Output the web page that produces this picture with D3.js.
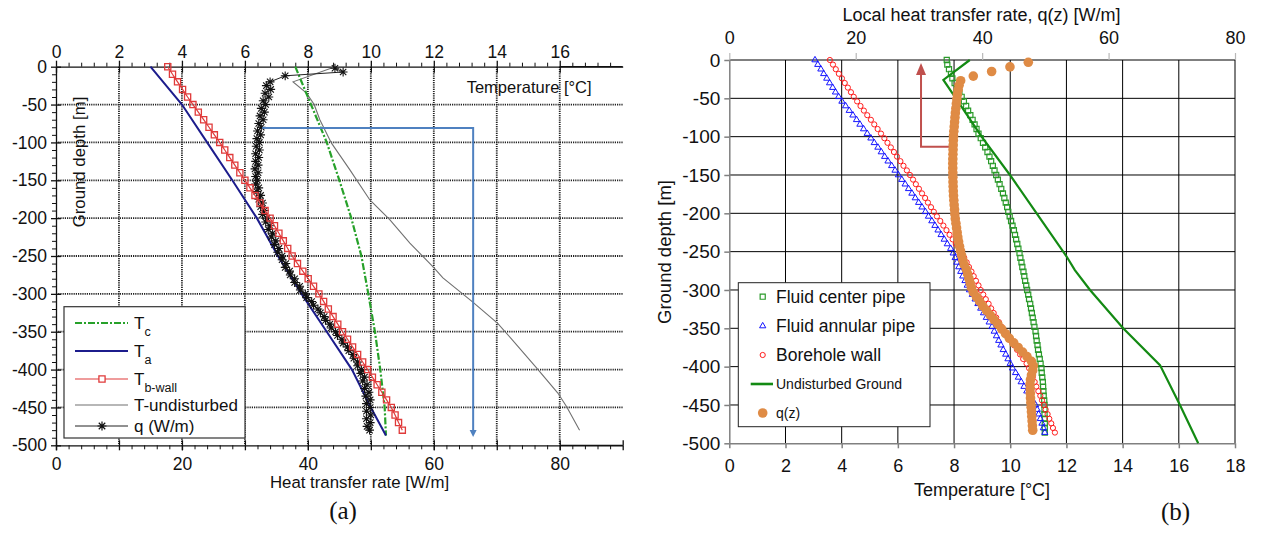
<!DOCTYPE html>
<html>
<head>
<meta charset="utf-8">
<script src="https://cdn.jsdelivr.net/npm/d3@7"></script>
<style>
  html, body { margin: 0; padding: 0; background: #fff; }
  svg { display: block; }
  text { font-family: "Liberation Sans", Arial, sans-serif; }
  text.serif { font-family: "Liberation Serif", "Times New Roman", serif; }
</style>
</head>
<body>
<svg id="fig" width="1264" height="539"></svg>
<script>
// ---------- panel (a) data ----------
const tempTicksA = [0, 2, 4, 6, 8, 10, 12, 14, 16]
const heatTicksA = [0, 20, 40, 60, 80]
const depthTicks = [0, -50, -100, -150, -200, -250, -300, -350, -400, -450, -500]

const depthFluidA = [0, -50, -100, -150, -200, -250, -300, -350, -400, -450, -487]
const tempTa = [3.0, 4.0, 4.8, 5.6, 6.38, 7.05, 7.8, 8.6, 9.4, 10.0, 10.48]
const tempTc = [7.6, 8.1, 8.6, 9.0, 9.38, 9.7, 9.92, 10.13, 10.3, 10.44, 10.48]

const depthUndA = [-1, -20, -35, -50, -70, -101, -136, -176, -202, -233, -264, -279, -311, -339, -361, -398, -431, -449, -480]
const tempUndA = [8.8, 7.53, 7.96, 8.2, 8.38, 8.75, 9.33, 9.97, 10.6, 11.24, 11.97, 12.29, 13.24, 14.03, 14.5, 15.27, 15.94, 16.22, 16.63]

const depthWallA = [0, -10, -20, -30, -40, -50, -60, -70, -80, -90,
  -100, -110, -120, -130, -140, -150, -160, -170, -180, -190,
  -200, -210, -220, -230, -240, -250, -260, -270, -280, -290,
  -300, -310, -320, -330, -340, -350, -360, -370, -380, -390,
  -400, -410, -420, -430, -440, -450, -460, -470, -480]
const tempWallA = [3.55, 3.70, 3.86, 4.02, 4.18, 4.35, 4.52, 4.69, 4.86, 5.03,
  5.20, 5.36, 5.52, 5.68, 5.84, 6.00, 6.16, 6.32, 6.48, 6.64,
  6.80, 6.94, 7.08, 7.22, 7.36, 7.50, 7.67, 7.84, 8.01, 8.18,
  8.35, 8.50, 8.65, 8.80, 8.95, 9.10, 9.26, 9.42, 9.58, 9.74,
  9.90, 10.05, 10.20, 10.35, 10.50, 10.65, 10.77, 10.88, 11.00]

const depthQA = [-2, -7, -12,
  -20, -25, -30, -35, -40, -45, -50, -55, -60, -65,
  -70, -75, -80, -85, -90, -95, -100, -105, -110, -115,
  -120, -125, -130, -135, -140, -145, -150, -155, -160, -165,
  -170, -175, -180, -185, -190, -195, -200, -205, -210, -215,
  -220, -225, -230, -235, -240, -245, -250, -255, -260, -265,
  -270, -275, -280, -285, -290, -295, -300, -305, -310, -315,
  -320, -325, -330, -335, -340, -345, -350, -355, -360, -365,
  -370, -375, -380, -385, -390, -395, -400, -405, -410, -415,
  -420, -425, -430, -435, -440, -445, -450, -455, -460, -465,
  -470, -475, -480]
const heatQA = [44.3, 45.6, 36.4,
  34.0, 33.4, 34.1, 33.2, 33.8, 32.9, 33.3, 32.6, 33.1, 32.4,
  32.9, 32.2, 32.6, 32.0, 32.5, 31.9, 32.3, 31.8, 32.3, 31.7,
  32.2, 31.7, 32.1, 31.6, 32.1, 31.7, 32.0, 31.7, 32.2, 31.9,
  32.5, 32.2, 32.8, 32.5, 33.1, 32.8, 33.5, 33.3, 34.0, 33.7,
  34.4, 34.2, 34.9, 34.7, 35.4, 35.2, 35.9, 35.9, 36.5, 36.4,
  37.1, 37.2, 37.9, 37.9, 38.7, 38.8, 39.6, 39.8, 40.6, 40.9,
  41.6, 42.0, 42.6, 42.8, 43.5, 43.7, 44.4, 44.7, 45.4, 45.6,
  46.3, 46.5, 47.2, 47.3, 47.9, 47.9, 48.5, 48.4, 49.0, 48.7,
  49.4, 49.0, 49.7, 49.2, 49.9, 49.3, 49.9, 49.3, 50.0, 49.3,
  49.9, 49.4, 49.8]

// blue arrow of panel (a), in heat-rate / depth units
const arrowA = { fromHeat: 32.75, toHeat: 66.25, depth: -81, tipDepth: -489 }

// ---------- panel (b) data ----------
const tempTicksB = [0, 2, 4, 6, 8, 10, 12, 14, 16, 18]
const heatTicksB = [0, 20, 40, 60, 80]

const depthB = [0, -6, -12, -18, -24, -30, -36, -42, -48, -54,
  -60, -66, -72, -78, -84, -90, -96, -102, -108, -114,
  -120, -126, -132, -138, -144, -150, -156, -162, -168, -174,
  -180, -186, -192, -198, -204, -210, -216, -222, -228, -234,
  -240, -246, -252, -258, -264, -270, -276, -282, -288, -294,
  -300, -306, -312, -318, -324, -330, -336, -342, -348, -354,
  -360, -366, -372, -378, -384, -390, -396, -402, -408, -414,
  -420, -426, -432, -438, -444, -450, -456, -462, -468, -474,
  -480, -486]
const tempCenter = [7.74, 7.76, 7.82, 7.89, 7.94, 8.02, 8.10, 8.19, 8.27, 8.35,
  8.43, 8.50, 8.58, 8.66, 8.73, 8.80, 8.87, 8.95, 9.03, 9.11,
  9.19, 9.26, 9.32, 9.38, 9.44, 9.50, 9.56, 9.62, 9.68, 9.74,
  9.79, 9.84, 9.89, 9.93, 9.98, 10.03, 10.08, 10.13, 10.17, 10.21,
  10.25, 10.29, 10.33, 10.36, 10.40, 10.43, 10.47, 10.50, 10.53, 10.57,
  10.60, 10.64, 10.67, 10.71, 10.74, 10.77, 10.80, 10.83, 10.86, 10.90,
  10.92, 10.94, 10.97, 10.99, 11.02, 11.05, 11.08, 11.11, 11.12, 11.14,
  11.16, 11.17, 11.18, 11.19, 11.21, 11.22, 11.22, 11.22, 11.23, 11.23,
  11.23, 11.23]
const tempAnnular = [3.05, 3.15, 3.26, 3.36, 3.47, 3.57, 3.68, 3.78, 3.89, 4.01,
  4.14, 4.27, 4.40, 4.53, 4.65, 4.78, 4.91, 5.04, 5.16, 5.29,
  5.41, 5.53, 5.65, 5.78, 5.90, 6.02, 6.14, 6.26, 6.38, 6.50,
  6.62, 6.74, 6.86, 6.98, 7.09, 7.21, 7.32, 7.43, 7.54, 7.65,
  7.76, 7.88, 7.97, 8.04, 8.10, 8.17, 8.24, 8.31, 8.39, 8.47,
  8.55, 8.65, 8.75, 8.85, 8.95, 9.05, 9.15, 9.25, 9.35, 9.43,
  9.51, 9.59, 9.67, 9.75, 9.84, 9.92, 10.00, 10.08, 10.19, 10.29,
  10.39, 10.49, 10.59, 10.70, 10.80, 10.90, 10.96, 11.01, 11.07, 11.13,
  11.18, 11.23]
const tempWallB = [3.58, 3.69, 3.79, 3.90, 4.01, 4.11, 4.22, 4.33, 4.43, 4.55,
  4.67, 4.79, 4.91, 5.04, 5.16, 5.28, 5.40, 5.52, 5.63, 5.75,
  5.86, 5.97, 6.09, 6.20, 6.32, 6.43, 6.54, 6.64, 6.75, 6.86,
  6.97, 7.07, 7.18, 7.28, 7.39, 7.51, 7.62, 7.73, 7.84, 7.95,
  8.06, 8.18, 8.28, 8.36, 8.45, 8.53, 8.62, 8.70, 8.78, 8.87,
  8.95, 9.04, 9.13, 9.23, 9.32, 9.41, 9.50, 9.60, 9.69, 9.79,
  9.91, 10.02, 10.13, 10.24, 10.35, 10.46, 10.58, 10.67, 10.74, 10.80,
  10.87, 10.93, 11.00, 11.07, 11.13, 11.20, 11.26, 11.33, 11.39, 11.46,
  11.52, 11.59]

const depthUndB = [0, -26, -48, -100, -150, -200, -256, -274, -300, -350, -398, -450, -500]
const tempUndB = [8.56, 7.62, 8.03, 8.98, 9.99, 10.94, 12.0, 12.3, 12.84, 14.02, 15.33, 16.04, 16.69]

const depthQz = [-3, -9, -15, -21, -27, -33, -39, -45, -51, -57,
  -63, -69, -75, -81, -87, -93, -99, -105, -111, -117,
  -123, -129, -135, -141, -147, -153, -159, -165, -171, -177,
  -183, -189, -195, -201, -207, -213, -219, -225, -231, -237,
  -243, -249, -255, -261, -267, -273, -279, -285, -291, -297,
  -303, -309, -315, -321, -327, -333, -339, -345, -351, -357,
  -363, -369, -375, -381, -387, -393, -399, -405, -411, -417,
  -423, -429, -435, -441, -447, -453, -459, -465, -471, -477,
  -483]
const heatQz = [47.3, 44.4, 41.5, 38.6, 36.6, 36.35, 36.2, 36.08, 36.0, 35.92,
  35.84, 35.76, 35.7, 35.64, 35.58, 35.52, 35.47, 35.44, 35.42, 35.40,
  35.38, 35.36, 35.35, 35.35, 35.36, 35.37, 35.39, 35.41, 35.43, 35.47,
  35.52, 35.57, 35.63, 35.68, 35.75, 35.85, 35.95, 36.05, 36.15, 36.27,
  36.42, 36.58, 36.75, 36.93, 37.15, 37.5, 37.7, 37.9, 38.1, 38.3,
  38.6, 39.1, 39.6, 40.1, 40.7, 41.3, 41.9, 42.5, 43.1, 43.7,
  44.3, 45.0, 45.7, 46.4, 47.1, 47.8, 48.1, 48.0, 47.8, 47.65,
  47.58, 47.6, 47.62, 47.65, 47.7, 47.75, 47.8, 47.85, 47.9, 47.95,
  48.0]

// red arrow of panel (b), in heat-rate / depth units
const arrowB = { fromHeat: 35.44, toHeat: 30.33, depth: -113, tipDepth: -4 }

// ---------- helpers ----------
const svg = d3.select('#fig')

const zip = (zs, vs) => zs.map((z, i) => ({ z: z, v: vs[i] }))

function starPath (r) {
  const d = r * 0.72
  return `M${-r},0H${r}M0,${-r}V${r}M${-d},${-d}L${d},${d}M${-d},${d}L${d},${-d}`
}

function styleAxis (g, color, size, width) {
  g.attr('font-size', size)
  g.selectAll('text').attr('fill', '#111')
  g.selectAll('line').attr('stroke', color).attr('stroke-width', width)
  g.select('.domain').attr('stroke', color).attr('stroke-width', width)
  return g
}

function noLabels (g) {
  g.select('.domain').remove()
  g.selectAll('text').remove()
}

// =====================================================================
// panel (a)
// =====================================================================
const pa = { left: 56, right: 622.7, top: 66.7, bottom: 445.3 }
const xTempA = d3.scaleLinear().domain([0, 18]).range([pa.left, pa.right])
const xHeatA = d3.scaleLinear().domain([0, 90]).range([pa.left, pa.right])
const yA = d3.scaleLinear().domain([0, -500]).range([pa.top, pa.bottom])
const gA = svg.append('g')

// dotted grid
gA.append('g').selectAll('line')
  .data(tempTicksA.filter(d => d > 0))
  .join('line')
  .attr('x1', d => xTempA(d)).attr('x2', d => xTempA(d))
  .attr('y1', pa.top).attr('y2', pa.bottom)
  .attr('stroke', '#222').attr('stroke-width', 1.8).attr('stroke-dasharray', '1.2,1')
gA.append('g').selectAll('line')
  .data(depthTicks.filter(d => d < 0 && d > -500))
  .join('line')
  .attr('x1', pa.left).attr('x2', pa.right)
  .attr('y1', d => yA(d)).attr('y2', d => yA(d))
  .attr('stroke', '#222').attr('stroke-width', 1.8).attr('stroke-dasharray', '1.2,1')

// top temperature axis
const minorTempA = d3.range(1, 45).map(i => i * 0.4).filter(v => Math.abs(v / 2 - Math.round(v / 2)) > 1e-6)
gA.append('g').attr('transform', `translate(0,${pa.top})`)
  .call(d3.axisTop(xTempA).tickValues(minorTempA).tickSize(4).tickFormat(''))
  .call(g => styleAxis(g, '#111', 17, 1)).call(noLabels)
gA.append('g').attr('transform', `translate(0,${pa.top})`)
  .call(d3.axisBottom(xTempA).tickValues(tempTicksA).tickSize(6).tickFormat(''))
  .call(g => styleAxis(g, '#111', 17, 1.3)).call(noLabels)
gA.append('g').attr('transform', `translate(0,${pa.top})`)
  .call(d3.axisTop(xTempA).tickValues(tempTicksA).tickSize(6).tickSizeOuter(0).tickPadding(3).tickFormat(d => String(d)))
  .call(g => styleAxis(g, '#111', 17.5, 1.3))
gA.append('line').attr('x1', xTempA(16)).attr('x2', pa.right).attr('y1', pa.top).attr('y2', pa.top)
  .attr('stroke', '#111').attr('stroke-width', 1.3)

// left depth axis
const minorDepth = d3.range(1, 50).map(i => -10 * i).filter(v => v % 50 !== 0)
gA.append('g').attr('transform', `translate(${pa.left},0)`)
  .call(d3.axisLeft(yA).tickValues(minorDepth).tickSize(4).tickFormat(''))
  .call(g => styleAxis(g, '#111', 17, 1)).call(noLabels)
gA.append('g').attr('transform', `translate(${pa.left},0)`)
  .call(d3.axisRight(yA).tickValues(depthTicks).tickSize(5).tickFormat(''))
  .call(g => styleAxis(g, '#111', 17, 1.3)).call(noLabels)
gA.append('g').attr('transform', `translate(${pa.left},0)`)
  .call(d3.axisLeft(yA).tickValues(depthTicks).tickSize(5).tickSizeOuter(0).tickPadding(4).tickFormat(d => String(d)))
  .call(g => styleAxis(g, '#111', 17.5, 1.3))

// bottom heat-rate axis
const minorHeatA = d3.range(1, 46).map(i => i * 2).filter(v => v % 10 !== 0)
const majorHeatA = d3.range(0, 10).map(i => i * 10)
gA.append('g').attr('transform', `translate(0,${pa.bottom})`)
  .call(d3.axisBottom(xHeatA).tickValues(minorHeatA).tickSize(4).tickFormat(''))
  .call(g => styleAxis(g, '#111', 17, 1)).call(noLabels)
gA.append('g').attr('transform', `translate(0,${pa.bottom})`)
  .call(d3.axisTop(xHeatA).tickValues(majorHeatA).tickSize(5).tickFormat(''))
  .call(g => styleAxis(g, '#111', 17, 1.3)).call(noLabels)
gA.append('g').attr('transform', `translate(0,${pa.bottom})`)
  .call(d3.axisBottom(xHeatA).tickValues(majorHeatA).tickSize(5).tickFormat(''))
  .call(g => styleAxis(g, '#111', 17, 1.3)).call(noLabels)
gA.append('g').attr('transform', `translate(0,${pa.bottom})`)
  .call(d3.axisBottom(xHeatA).tickValues(heatTicksA).tickSize(5).tickSizeOuter(0).tickPadding(7.6).tickFormat(d => String(d)))
  .call(g => styleAxis(g, '#111', 17.5, 1.3))
gA.append('line').attr('x1', xHeatA(80)).attr('x2', pa.right).attr('y1', pa.bottom).attr('y2', pa.bottom)
  .attr('stroke', '#111').attr('stroke-width', 1.3)

// axis titles
gA.append('text').attr('x', 466.7).attr('y', 92.5)
  .attr('font-size', 16.5).attr('fill', '#111').text('Temperature [°C]')
gA.append('text').attr('x', 270).attr('y', 488)
  .attr('font-size', 16.8).attr('fill', '#111').text('Heat transfer rate [W/m]')
gA.append('text').attr('transform', 'translate(85,162) rotate(-90)')
  .attr('text-anchor', 'middle').attr('font-size', 16.8).attr('fill', '#111').text('Ground depth [m]')

// series
const lineTA = d3.line().x(d => xTempA(d.v)).y(d => yA(d.z))
const lineHA = d3.line().x(d => xHeatA(d.v)).y(d => yA(d.z))

gA.append('path').datum(zip(depthUndA, tempUndA)).attr('d', lineTA)
  .attr('fill', 'none').attr('stroke', '#707070').attr('stroke-width', 1.1)
gA.append('path').datum(zip(depthFluidA, tempTc)).attr('d', lineTA)
  .attr('fill', 'none').attr('stroke', '#27a12a').attr('stroke-width', 2.2).attr('stroke-dasharray', '7,2,2,2')
gA.append('path').datum(zip(depthFluidA, tempTa)).attr('d', lineTA)
  .attr('fill', 'none').attr('stroke', '#1c1c8c').attr('stroke-width', 2)

const qA = zip(depthQA, heatQA)
gA.append('path').datum(qA).attr('d', lineHA)
  .attr('fill', 'none').attr('stroke', '#222').attr('stroke-width', 1)
gA.append('g').selectAll('path').data(qA).join('path')
  .attr('transform', d => `translate(${xHeatA(d.v)},${yA(d.z)})`)
  .attr('d', starPath(4.4)).attr('fill', 'none').attr('stroke', '#111').attr('stroke-width', 1.1)

const wallA = zip(depthWallA, tempWallA)
gA.append('path').datum(wallA).attr('d', lineTA)
  .attr('fill', 'none').attr('stroke', '#e03a3a').attr('stroke-width', 1.2)
gA.append('g').selectAll('path').data(wallA).join('path')
  .attr('transform', d => `translate(${xTempA(d.v)},${yA(d.z)})`)
  .attr('d', d3.symbol(d3.symbolSquare, 38)).attr('fill', 'none')
  .attr('stroke', '#e03a3a').attr('stroke-width', 1.3)

// blue arrow
const ax1 = xHeatA(arrowA.fromHeat)
const ax2 = xHeatA(arrowA.toHeat)
const ay1 = yA(arrowA.depth)
const ayTip = yA(arrowA.tipDepth)
gA.append('path').attr('d', `M${ax1},${ay1}H${ax2}V${ayTip - 6}`)
  .attr('fill', 'none').attr('stroke', '#4f81c0').attr('stroke-width', 2)
gA.append('path').attr('d', `M${ax2 - 3.5},${ayTip - 7}L${ax2 + 3.5},${ayTip - 7}L${ax2},${ayTip}Z`)
  .attr('fill', '#4f81c0')

// legend (a)
const legA = gA.append('g')
legA.append('rect').attr('x', 64).attr('y', 306.7).attr('width', 181).attr('height', 131.3)
  .attr('fill', '#fff').attr('stroke', '#333').attr('stroke-width', 1.2)
const legItemsA = [
  { y: 323, main: 'T', sub: 'c', stroke: '#27a12a', w: 2.2, dash: '7,2,2,2' },
  { y: 351, main: 'T', sub: 'a', stroke: '#1c1c8c', w: 2, dash: null },
  { y: 379, main: 'T', sub: 'b-wall', stroke: '#e03a3a', w: 1.2, dash: null, mark: 'square' },
  { y: 405, main: 'T-undisturbed', sub: null, stroke: '#707070', w: 1.1, dash: null },
  { y: 426, main: 'q (W/m)', sub: null, stroke: '#222', w: 1, dash: null, mark: 'star' }
]
legItemsA.forEach(it => {
  legA.append('line').attr('x1', 75).attr('x2', 128).attr('y1', it.y).attr('y2', it.y)
    .attr('stroke', it.stroke).attr('stroke-width', it.w).attr('stroke-dasharray', it.dash)
  if (it.mark === 'square') {
    legA.append('path').attr('transform', `translate(102,${it.y})`)
      .attr('d', d3.symbol(d3.symbolSquare, 38)).attr('fill', '#fff')
      .attr('stroke', '#e03a3a').attr('stroke-width', 1.3)
  }
  if (it.mark === 'star') {
    legA.append('path').attr('transform', `translate(102,${it.y})`)
      .attr('d', starPath(4.5)).attr('fill', 'none').attr('stroke', '#111').attr('stroke-width', 1.2)
  }
  const t = legA.append('text').attr('x', 134).attr('y', it.y + 5.5)
    .attr('font-size', 17).attr('fill', '#111').text(it.main)
  if (it.sub) t.append('tspan').attr('dy', 7).attr('font-size', 12.5).text(it.sub)
})

gA.append('text').attr('class', 'serif').attr('x', 343).attr('y', 519).attr('text-anchor', 'middle')
  .attr('font-size', 25).attr('fill', '#111').text('(a)')

// =====================================================================
// panel (b)
// =====================================================================
const pb = { left: 729.3, right: 1235, top: 60, bottom: 443.3 }
const xTempB = d3.scaleLinear().domain([0, 18]).range([pb.left, pb.right])
const xHeatB = d3.scaleLinear().domain([0, 80]).range([pb.left, pb.right])
const yB = d3.scaleLinear().domain([0, -500]).range([pb.top, pb.bottom])
const gB = svg.append('g')

// grid
gB.append('g').selectAll('line')
  .data(tempTicksB.filter(d => d > 0))
  .join('line')
  .attr('x1', d => xTempB(d)).attr('x2', d => xTempB(d))
  .attr('y1', pb.top).attr('y2', pb.bottom)
  .attr('stroke', '#000').attr('stroke-width', 1)
gB.append('g').selectAll('line')
  .data(depthTicks.filter(d => d > -500))
  .join('line')
  .attr('x1', pb.left).attr('x2', pb.right)
  .attr('y1', d => yB(d)).attr('y2', d => yB(d))
  .attr('stroke', '#000').attr('stroke-width', 1)

// axes
gB.append('g').attr('transform', `translate(${pb.left},0)`)
  .call(d3.axisLeft(yB).tickValues(depthTicks).tickSize(5).tickSizeOuter(0).tickPadding(4).tickFormat(d => String(d)))
  .call(g => styleAxis(g, '#808080', 19, 1.5))
gB.append('g').attr('transform', `translate(0,${pb.bottom})`)
  .call(d3.axisBottom(xTempB).tickValues(tempTicksB).tickSize(5).tickSizeOuter(0).tickPadding(11).tickFormat(d => String(d)))
  .call(g => styleAxis(g, '#808080', 18, 1.5))
gB.append('g').attr('transform', `translate(0,${pb.top})`)
  .call(d3.axisTop(xHeatB).tickValues(heatTicksB).tickSize(7).tickSizeOuter(0).tickPadding(9).tickFormat(d => String(d)))
  .call(g => styleAxis(g, '#b8b8b8', 18, 1.2))
  .call(g => g.select('.domain').remove())

// titles
gB.append('text').attr('x', 981.5).attr('y', 21).attr('text-anchor', 'middle')
  .attr('font-size', 18).attr('fill', '#111').text('Local heat transfer rate, q(z) [W/m]')
gB.append('text').attr('x', 982).attr('y', 496).attr('text-anchor', 'middle')
  .attr('font-size', 18).attr('fill', '#111').text('Temperature [°C]')
gB.append('text').attr('transform', 'translate(671,252) rotate(-90)').attr('text-anchor', 'middle')
  .attr('font-size', 18.5).attr('fill', '#111').text('Ground depth [m]')

// series
const centerB = zip(depthB, tempCenter)
const annularB = zip(depthB, tempAnnular)
const wallB = zip(depthB, tempWallB)
const qzB = zip(depthQz, heatQz)

gB.append('g').selectAll('path').data(centerB).join('path')
  .attr('transform', d => `translate(${xTempB(d.v)},${yB(d.z)})`)
  .attr('d', d3.symbol(d3.symbolSquare, 26)).attr('fill', 'none')
  .attr('stroke', '#2b9a2b').attr('stroke-width', 1.2)
gB.append('g').selectAll('path').data(annularB).join('path')
  .attr('transform', d => `translate(${xTempB(d.v)},${yB(d.z)})`)
  .attr('d', d3.symbol(d3.symbolTriangle, 17)).attr('fill', 'none')
  .attr('stroke', '#1515ff').attr('stroke-width', 1)
gB.append('g').selectAll('circle').data(wallB).join('circle')
  .attr('cx', d => xTempB(d.v)).attr('cy', d => yB(d.z)).attr('r', 2.6)
  .attr('fill', 'none').attr('stroke', '#ff1e1e').attr('stroke-width', 1)

gB.append('path').datum(zip(depthUndB, tempUndB))
  .attr('d', d3.line().x(d => xTempB(d.v)).y(d => yB(d.z)))
  .attr('fill', 'none').attr('stroke', '#138a13').attr('stroke-width', 2.2)

// red arrow
const bx1 = xHeatB(arrowB.fromHeat)
const bx2 = xHeatB(arrowB.toHeat)
const by1 = yB(arrowB.depth)
const byTip = yB(arrowB.tipDepth)
gB.append('path').attr('d', `M${bx1},${by1}H${bx2}V${byTip + 10}`)
  .attr('fill', 'none').attr('stroke', '#c0504d').attr('stroke-width', 2)
gB.append('path').attr('d', `M${bx2 - 5},${byTip + 12}L${bx2 + 5},${byTip + 12}L${bx2},${byTip}Z`)
  .attr('fill', '#c0504d')

gB.append('g').selectAll('circle').data(qzB).join('circle')
  .attr('cx', d => xHeatB(d.v)).attr('cy', d => yB(d.z)).attr('r', 4.8)
  .attr('fill', '#df8b45')

// legend (b)
const legB = gB.append('g')
legB.append('rect').attr('x', 738.3).attr('y', 282.7).attr('width', 191.7).attr('height', 144)
  .attr('fill', '#fff').attr('stroke', '#222').attr('stroke-width', 1)
legB.append('path').attr('transform', 'translate(762.7,296.7)')
  .attr('d', d3.symbol(d3.symbolSquare, 26)).attr('fill', 'none').attr('stroke', '#2b9a2b').attr('stroke-width', 1.2)
legB.append('path').attr('transform', 'translate(762.7,326)')
  .attr('d', d3.symbol(d3.symbolTriangle, 17)).attr('fill', 'none').attr('stroke', '#1515ff').attr('stroke-width', 1)
legB.append('circle').attr('cx', 762.7).attr('cy', 355).attr('r', 2.6)
  .attr('fill', 'none').attr('stroke', '#ff1e1e').attr('stroke-width', 1)
legB.append('line').attr('x1', 750.7).attr('x2', 773).attr('y1', 384).attr('y2', 384)
  .attr('stroke', '#138a13').attr('stroke-width', 2.6)
legB.append('circle').attr('cx', 762.7).attr('cy', 413).attr('r', 4.8).attr('fill', '#df8b45')
const legTextB = [
  { y: 296.7, s: 17.5, t: 'Fluid center pipe' },
  { y: 326, s: 17.5, t: 'Fluid annular pipe' },
  { y: 355, s: 17.5, t: 'Borehole wall' },
  { y: 384, s: 14, t: 'Undisturbed Ground' },
  { y: 413, s: 14, t: 'q(z)' }
]
legB.selectAll('text.leg').data(legTextB).join('text')
  .attr('class', 'leg')
  .attr('x', 776).attr('y', d => d.y + d.s * 0.36)
  .attr('font-size', d => d.s).attr('fill', '#111').text(d => d.t)

gB.append('text').attr('class', 'serif').attr('x', 1175.5).attr('y', 520).attr('text-anchor', 'middle')
  .attr('font-size', 25).attr('fill', '#111').text('(b)')
</script>
</body>
</html>
